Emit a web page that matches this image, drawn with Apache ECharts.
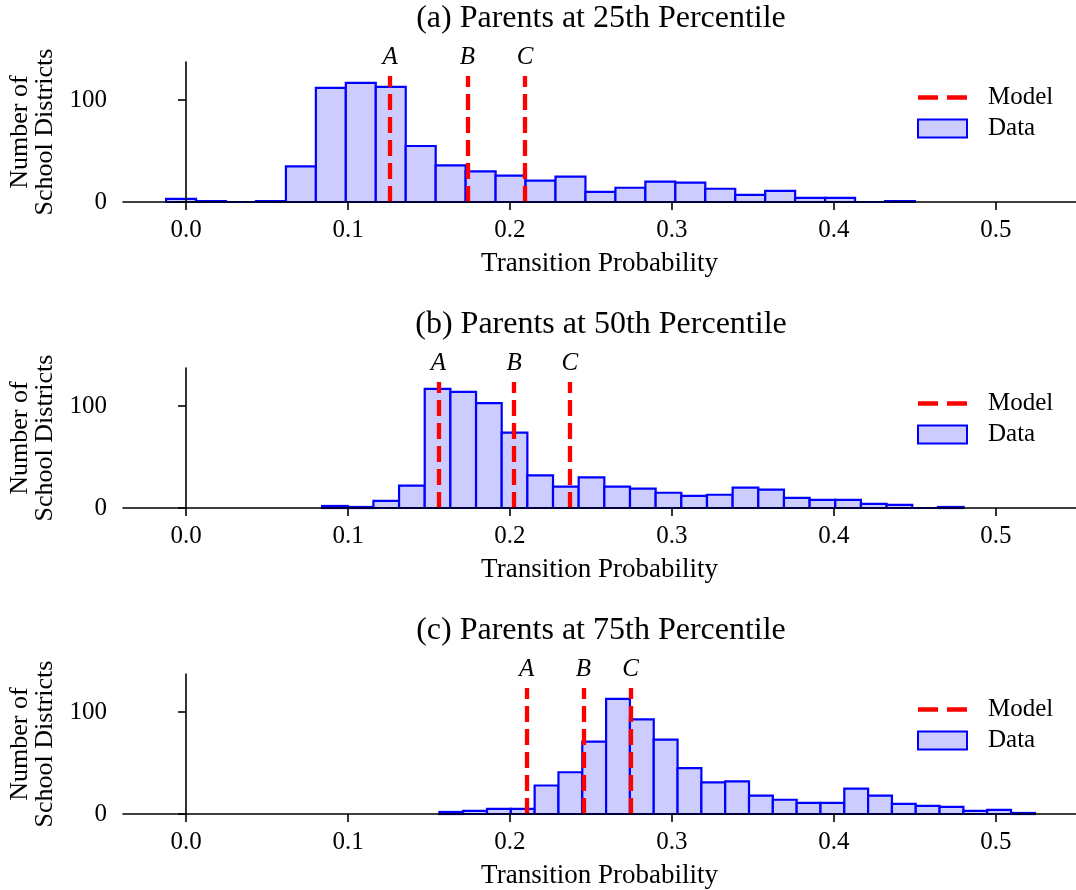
<!DOCTYPE html>
<html>
<head>
<meta charset="utf-8">
<script src="https://cdn.jsdelivr.net/npm/echarts@6/dist/echarts.min.js"></script>
<style>
  html, body { margin: 0; padding: 0; background: #fff; }
  #chart { width: 1076px; height: 890px; }
</style>
</head>
<body>
<div id="chart"></div>
<script>
  // histogram counts per panel (25 bins each)
  var counts25 = [3, 1, 0, 1, 35, 112, 117, 113, 55, 36, 30, 26, 21, 25, 10, 14, 20, 19, 13, 7, 11, 4, 4, 0, 1];
  var counts50 = [2, 1, 7, 22, 117, 114, 103, 74, 32, 21, 30, 21, 19, 15, 12, 13, 20, 18, 10, 8, 8, 4, 3, 0, 1];
  var counts75 = [2, 3, 5, 5, 28, 41, 71, 113, 93, 73, 45, 31, 32, 18, 14, 11, 11, 25, 18, 10, 8, 7, 3, 4, 1];

  // bin range (min, max of data) for each panel
  var range25 = [-0.0123, 0.4500];
  var range50 = [0.0840, 0.4800];
  var range75 = [0.1564, 0.5240];

  // model predictions A, B, C
  var modelLabels = ['A', 'B', 'C'];
  var model25 = [0.1260, 0.1737, 0.2093];
  var model50 = [0.1558, 0.2025, 0.2370];
  var model75 = [0.2103, 0.2453, 0.2745];

  var titles = ['(a) Parents at 25th Percentile', '(b) Parents at 50th Percentile', '(c) Parents at 75th Percentile'];
  var xTicks = [0, 0.1, 0.2, 0.3, 0.4, 0.5];
  var yTicks = [0, 100];

  var serif = "'Liberation Serif', 'DejaVu Serif', serif";
  var xMin = -0.0389, xMax = 0.5494, yMax = 137.5;
  var gridTops = [62, 368, 674];

  function binRows(counts, range) {
    var n = counts.length, w = (range[1] - range[0]) / n;
    return counts.map(function(c, i) {
      return [range[0] + i * w, range[0] + (i + 1) * w, c];
    });
  }

  function renderBin(params, api) {
    var p0 = api.coord([api.value(0), api.value(2)]);
    var p1 = api.coord([api.value(1), 0]);
    return {
      type: 'rect',
      shape: { x: p0[0], y: p0[1], width: p1[0] - p0[0], height: p1[1] - p0[1] },
      style: { fill: '#ccccff', stroke: '#0000ff', lineWidth: 2.2 }
    };
  }

  var panels = [
    { counts: counts25, range: range25, model: model25 },
    { counts: counts50, range: range50, model: model50 },
    { counts: counts75, range: range75, model: model75 }
  ];

  var grid = [], xAxis = [], yAxis = [], series = [], title = [], legend = [];

  panels.forEach(function(p, k) {
    var top = gridTops[k];
    grid.push({ left: 123, right: 0, top: top, height: 140, outerBoundsMode: 'none', containLabel: false });
    title.push({
      text: titles[k], left: 601, textAlign: 'center', top: top - 59, padding: 0,
      textStyle: { fontFamily: serif, fontSize: 32, fontWeight: 'normal', color: '#000' }
    });
    xAxis.push({
      type: 'value', gridIndex: k, min: xMin, max: xMax, z: 5,
      name: 'Transition Probability', nameLocation: 'middle', nameGap: 48,
      nameTextStyle: { fontFamily: serif, fontSize: 27, color: '#000' },
      axisLine: { show: true, onZero: false, lineStyle: { color: '#000', width: 1.6 } },
      axisTick: { show: true, length: 8, customValues: xTicks, lineStyle: { color: '#000', width: 1.6 } },
      axisLabel: {
        customValues: xTicks, margin: 16, fontFamily: serif, fontSize: 25, color: '#000',
        formatter: function(v) { return v.toFixed(1); }
      },
      splitLine: { show: false }
    });
    yAxis.push({
      type: 'value', gridIndex: k, min: 0, max: yMax, z: 5,
      name: 'Number of\nSchool Districts', nameLocation: 'middle', nameRotate: 90, nameGap: 63,
      nameTextStyle: { fontFamily: serif, fontSize: 26, lineHeight: 25, color: '#000' },
      axisLine: { show: true, lineStyle: { color: '#000', width: 1.6 } },
      axisTick: { show: true, length: 8, customValues: yTicks, lineStyle: { color: '#000', width: 1.6 } },
      axisLabel: { customValues: yTicks, margin: 16, fontFamily: serif, fontSize: 25, color: '#000' },
      splitLine: { show: false }
    });
    series.push({
      name: 'Data', type: 'custom', xAxisIndex: k, yAxisIndex: k,
      itemStyle: { color: '#ccccff', borderColor: '#0000ff', borderWidth: 2 },
      renderItem: renderBin, encode: { x: [0, 1], y: 2 },
      data: binRows(p.counts, p.range), z: 2
    });
    series.push({
      name: 'Model', type: 'line', xAxisIndex: k, yAxisIndex: k, data: [],
      symbol: 'none', z: 4,
      lineStyle: { color: '#ff0000', width: 4, type: [16, 7] },
      itemStyle: { color: '#ff0000' },
      markLine: {
        silent: true, symbol: 'none', animation: false,
        lineStyle: { color: '#ff0000', width: 4.3, type: [16, 7] },
        label: {
          show: true, position: 'end', distance: 6,
          fontFamily: serif, fontStyle: 'italic', fontSize: 25, color: '#000'
        },
        data: p.model.map(function(v, i) {
          return [
            { coord: [v, 0], name: modelLabels[i], label: { formatter: modelLabels[i] } },
            { coord: [v, yMax * 0.9] }
          ];
        })
      }
    });
    legend.push({
      orient: 'vertical', left: 917, top: top + 23, padding: 0,
      itemWidth: 49, itemHeight: 18, itemGap: 6,
      selectedMode: false,
      data: [
        { name: 'Model', icon: 'path://M0,0h18v4h-18zM26,0h18v4h-18z', itemStyle: { color: '#ff0000' } },
        { name: 'Data', icon: 'rect', itemStyle: { color: '#ccccff', borderColor: '#0000ff', borderWidth: 2 } }
      ],
      textStyle: { fontFamily: serif, fontSize: 25, lineHeight: 20, color: '#000', padding: [0, 0, 0, 16] }
    });
  });

  var option = {
    animation: false,
    backgroundColor: '#fff',
    title: title,
    legend: legend,
    grid: grid,
    xAxis: xAxis,
    yAxis: yAxis,
    series: series
  };

  echarts.init(document.getElementById('chart')).setOption(option);
</script>
</body>
</html>
